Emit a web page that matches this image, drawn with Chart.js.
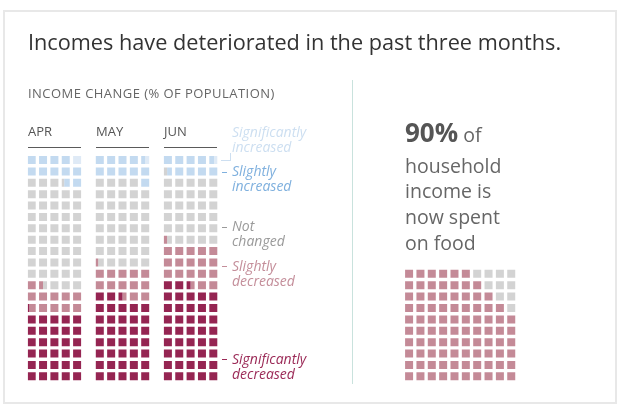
<!DOCTYPE html>
<html>
<head>
<meta charset="utf-8">
<script src="https://cdn.jsdelivr.net/npm/chart.js@4"></script>
<style>
  html, body { margin:0; padding:0; background:#fff; }
  #wrap { position:relative; width:621px; height:406px; overflow:hidden; font-family:"Open Sans", sans-serif; }
  #card { position:absolute; left:3px; top:10px; width:610px; height:390px; border:2px solid #e8e8e8; }
  canvas { position:absolute; left:0; top:0; }
  .t { position:absolute; white-space:nowrap; }
  .ul { position:absolute; height:0; border-top:1.5px solid #5a5a5a; }
  .dash { position:absolute; height:1px; width:5px; }
  .lg { position:absolute; font-style:italic; font-size:14px; line-height:15px; white-space:nowrap; }
</style>
</head>
<body>
<div id="wrap">
  <div id="card"></div>
  <canvas id="c" width="621" height="406"></canvas>
  <div class="t" style="left:28px; top:30.7px; font-size:21.7px; line-height:21.7px; color:#333;">Incomes have deteriorated in the past three months.</div>
  <div class="t" style="left:28px; top:86.5px; font-size:13px; line-height:13px; letter-spacing:0.45px; color:#666;">INCOME CHANGE (% OF POPULATION)</div>
  <div id="months"></div>
  <div id="legend"></div>
  <div style="position:absolute; left:352px; top:80px; width:1px; height:304px; background:#c9e2dd;"></div>
  <div class="t" style="left:405px; top:118.6px; font-size:26px; line-height:26px; color:#555;"><b>90%</b><span style="font-size:19.5px; color:#666;"> of</span></div>
  <div class="t" style="left:405px; top:152.6px; font-size:19.5px; line-height:25.7px; color:#666;">household<br>income is<br>now spent<br>on food</div>
</div>
<script>
// ---- data ----
const months = ['APR', 'MAY', 'JUN'];
const categories = ['Significantly decreased', 'Slightly decreased', 'Not changed', 'Slightly increased', 'Significantly increased'];
const sigDec = [30.2, 37.5, 42.5];
const sliDec = [11.3, 12.8, 17.9];
const notCh  = [46.8, 38.7, 30.0];
const sliInc = [10.7, 10.5, 9.2];
const sigInc = [1.0, 0.5, 0.4];
const foodShare = 90;

// ---- styles ----
const catColors = ['#952552', '#c48a97', '#d3d3d3', '#c3daf0', '#dfeaf6'];
const legendColors = ['#9b2a57', '#c48e9a', '#9a9a9a', '#7fb0de', '#cddff1'];
const foodColors = ['#c48a97', '#d3d3d3'];
const COLS = 5, CELL = 8 / 11.35, MONTH_STEP = 6, FOOD_OFF = 33.25;

const series = [sigDec, sliDec, notCh, sliInc, sigInc];
const datasets = categories.map((name, ci) => ({ label: name, data: [], backgroundColor: catColors[ci] }));

months.forEach((m, mi) => {
  let start = 0;
  series.forEach((s, ci) => {
    const a = start, b = start + s[mi];
    start = b;
    for (let k = Math.floor(a); k < Math.ceil(b) && k < 100; k++) {
      const f0 = Math.max(a, k) - k, f1 = Math.min(b, k + 1) - k;
      if (f1 - f0 <= 0.001) continue;
      const row = Math.floor(k / COLS), col = k % COLS;
      const x0 = mi * MONTH_STEP + col;
      datasets[ci].data.push({ y: row, x: [x0 + f0 * CELL, x0 + f1 * CELL] });
    }
  });
});

// food waffle (10x10): unfilled cells are those furthest to the top-right
const cells = [];
for (let r = 0; r < 10; r++) for (let c = 0; c < 10; c++) cells.push({ r, c, key: c - r });
cells.sort((p, q) => q.key - p.key || p.r - q.r);
const foodFilled = { label: 'Food', data: [], backgroundColor: foodColors[0] };
const foodRest = { label: 'Other', data: [], backgroundColor: foodColors[1] };
cells.forEach((cell, i) => {
  const target = i < 100 - foodShare ? foodRest : foodFilled;
  const x0 = FOOD_OFF + cell.c;
  target.data.push({ y: 9 - cell.r, x: [x0, x0 + CELL] });
});
datasets.push(foodFilled, foodRest);

new Chart(document.getElementById('c'), {
  type: 'bar',
  data: { datasets },
  options: {
    indexAxis: 'y',
    responsive: false,
    animation: false,
    layout: { padding: { left: 27.7, right: 82.55, top: 154.3, bottom: 24 } },
    scales: {
      x: { type: 'linear', min: 0, max: 45, display: false, offset: false },
      y: { type: 'linear', min: -0.5, max: 19.5, display: false, offset: false, grid: { offset: false } }
    },
    plugins: { legend: { display: false }, tooltip: { enabled: false } },
    datasets: { bar: { barThickness: 8, grouped: false, borderWidth: 0, borderSkipped: false, inflateAmount: 0 } }
  }
});

// month labels and underlines
const mEl = document.getElementById('months');
months.forEach((m, mi) => {
  const left = 28 + mi * 68;
  mEl.insertAdjacentHTML('beforeend',
    `<div class="t" style="left:${left}px; top:124.5px; font-size:13px; line-height:13px; color:#555;">${m}</div>` +
    `<div class="ul" style="left:${left}px; top:146.5px; width:53px;"></div>`);
});

// legend
const legendTop = [124.1, 163.1, 218.1, 258.1, 351.1];
const dashY = [null, 171.5, 227, 265.5, 359];
const lEl = document.getElementById('legend');
const lines = [['Significantly', 'increased'], ['Slightly', 'increased'], ['Not', 'changed'], ['Slightly', 'decreased'], ['Significantly', 'decreased']];
[4, 3, 2, 1, 0].forEach((ci, i) => {
  lEl.insertAdjacentHTML('beforeend',
    `<div class="lg" style="left:232px; top:${legendTop[i]}px; color:${legendColors[ci]};">${lines[i][0]}<br>${lines[i][1]}</div>`);
  if (dashY[i] !== null) {
    lEl.insertAdjacentHTML('beforeend', `<div class="dash" style="left:221.5px; top:${dashY[i]}px; background:${legendColors[ci]};"></div>`);
  }
});
// bracket for significantly increased
lEl.insertAdjacentHTML('beforeend',
  `<div style="position:absolute; left:221px; top:160px; width:10px; height:1px; background:${legendColors[4]};"></div>` +
  `<div style="position:absolute; left:230px; top:153px; width:1px; height:8px; background:${legendColors[4]};"></div>`);
</script>
</body>
</html>
